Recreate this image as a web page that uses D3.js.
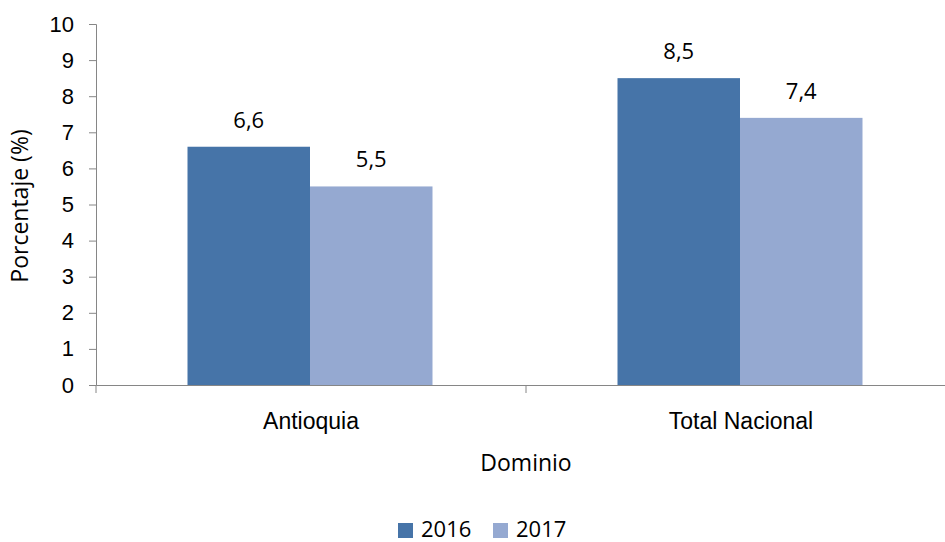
<!DOCTYPE html>
<html><head><meta charset="utf-8">
<script src="https://cdn.jsdelivr.net/npm/d3@7"></script>
<style>body{margin:0;background:#fff}svg{display:block;font-family:"Open Sans",sans-serif}</style>
</head><body><svg id="c" width="945" height="542"></svg>
<script>
const categories = ["Antioquia", "Total Nacional"];
const seriesNames = ["2016", "2017"];
const values2016 = [6.6, 8.5];
const values2017 = [5.5, 7.4];
const yTicks = [0,1,2,3,4,5,6,7,8,9,10];
const colors = ["#4674A8", "#95A9D1"];

(function(){
const svg = d3.select("#c");
const mLeft = 96, mRight = 956, mTop = 24, mBottom = 385;
const x = d3.scaleBand().domain(categories).range([mLeft, mRight]).paddingInner(0).paddingOuter(0);
const y = d3.scaleLinear().domain([0, 10]).range([mBottom, mTop]);
const sub = d3.scaleBand().domain(seriesNames).range([0, 245]);
const groupOffset = (x.bandwidth() - 245) / 2 - 1;
const axisColor = "#868686";
const fs = 22;
const fsL = 23;

// y axis
const ya = svg.append("g").attr("transform", `translate(${mLeft},0)`)
  .call(d3.axisLeft(y).tickValues(yTicks).tickSize(7).tickPadding(15));
ya.select(".domain").attr("stroke", axisColor);
ya.selectAll(".tick line").attr("stroke", axisColor);
ya.selectAll(".tick text").attr("fill", "#000").style("font-size", fs + "px").style("font-family", "inherit");

// bars
const data = categories.map((c, i) => ({cat: c, vals: [values2016[i], values2017[i]]}));
const g = svg.append("g");
data.forEach(d => {
  d.vals.forEach((v, j) => {
    const bx = x(d.cat) + groupOffset + sub(seriesNames[j]);
    g.append("rect").attr("x", bx).attr("y", y(v)).attr("width", sub.bandwidth()).attr("height", y(0) - y(v)).attr("fill", colors[j]);
    g.append("text").attr("x", bx + sub.bandwidth() / 2).attr("y", y(v) - 19)
      .attr("text-anchor", "middle").style("font-size", fs + "px").text(v.toFixed(1).replace(".", ","));
  });
});

// x axis
const xa = svg.append("g").attr("transform", `translate(0,${mBottom})`)
  .call(d3.axisBottom(x).tickSize(0).tickPadding(28));
xa.select(".domain").attr("stroke", axisColor);
xa.selectAll(".tick text").attr("fill", "#000").style("font-size", fsL + "px").style("font-family", "inherit");
[mLeft, ...categories.map(c => x(c) + x.bandwidth())].forEach(px => {
  svg.append("line").attr("x1", px).attr("x2", px).attr("y1", mBottom).attr("y2", mBottom + 8).attr("stroke", axisColor);
});

// axis titles
svg.append("text").attr("x", 526).attr("y", 471).attr("text-anchor", "middle").style("font-size", fsL + "px").text("Dominio");
svg.append("text").attr("transform", "translate(28,206) rotate(-90)").attr("text-anchor", "middle").style("font-size", fsL + "px").text("Porcentaje (%)");

// legend
const lg = svg.append("g");
const legX = [398, 493];
seriesNames.forEach((s, i) => {
  lg.append("rect").attr("x", legX[i]).attr("y", 523).attr("width", 15).attr("height", 15).attr("fill", colors[i]);
  lg.append("text").attr("x", legX[i] + 23).attr("y", 537).style("font-size", fs + "px").text(s);
});
})();
</script></body></html>
